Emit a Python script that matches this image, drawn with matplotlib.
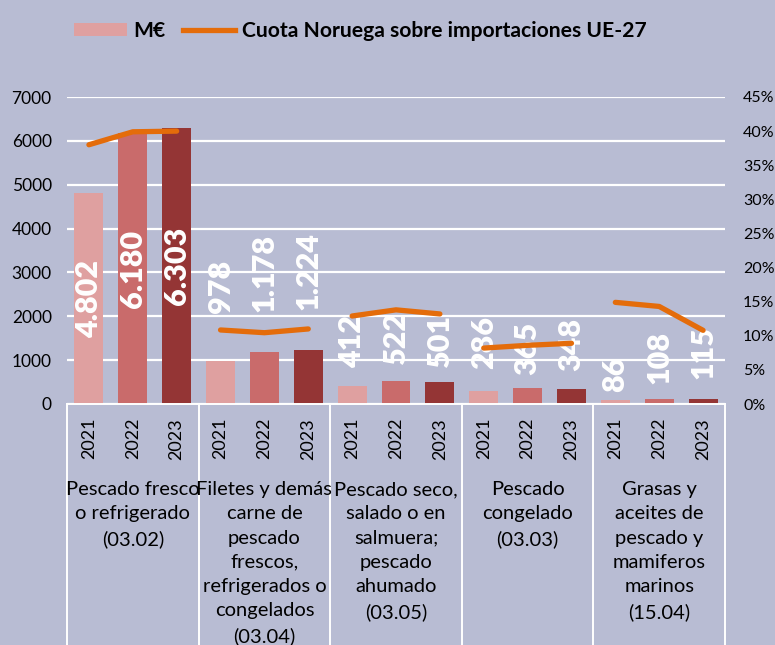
import numpy as np
import matplotlib
matplotlib.use("Agg")
import matplotlib.pyplot as plt
from matplotlib import font_manager as fm
from matplotlib.patches import Patch
from matplotlib.lines import Line2D
from matplotlib.transforms import blended_transform_factory

# ---------------- data ----------------
groups = [
    "Pescado fresco\no refrigerado\n(03.02)",
    "Filetes y demás\ncarne de\npescado\nfrescos,\nrefrigerados o\ncongelados\n(03.04)",
    "Pescado seco,\nsalado o en\nsalmuera;\npescado\nahumado\n(03.05)",
    "Pescado\ncongelado\n(03.03)",
    "Grasas y\naceites de\npescado y\nmamiferos\nmarinos\n(15.04)",
]
years = ["2021", "2022", "2023"]
values_meur = [
    [4802, 6180, 6303],
    [978, 1178, 1224],
    [412, 522, 501],
    [286, 365, 348],
    [86, 108, 115],
]
share_pct = [
    [38.0, 39.9, 40.0],
    [10.85, 10.45, 11.0],
    [12.9, 13.8, 13.2],
    [8.2, 8.6, 8.9],
    [14.9, 14.3, 10.8],
]
left_ticks = [0, 1000, 2000, 3000, 4000, 5000, 6000, 7000]
right_ticks = [0, 5, 10, 15, 20, 25, 30, 35, 40, 45]
legend_labels = ["M€", "Cuota Noruega sobre importaciones UE-27"]

# ---------------- styles ----------------
BG = "#b8bcd3"
BAR_COLORS = ["#dfa0a0", "#c96b6b", "#943535"]
ORANGE = "#e46c0a"
# label offsets above bar tops in pixels (None = centred inside the bar)
label_offsets_px = [
    [None, None, None],
    [48, 40, 40],
    [18, 17, 15],
    [22, 13, 18],
    [8, 15, 20],
]

avail = {f.name for f in fm.fontManager.ttflist}
MAIN = "Lato" if "Lato" in avail else "DejaVu Sans"
plt.rcParams["font.family"] = [MAIN, "DejaVu Sans"]

W, H = 775, 645
fig = plt.figure(figsize=(W / 100, H / 100), dpi=100, facecolor=BG)
L, R, B, T = 67, 725, 404, 97
ax = fig.add_axes([L / W, (H - B) / H, (R - L) / W, (B - T) / H])
ax.set_facecolor(BG)

n_g, n_y = len(groups), len(years)
xs = np.arange(n_g * n_y)

LBL_FS = 22
for gi in range(n_g):
    for yi in range(n_y):
        xi = gi * n_y + yi
        v = values_meur[gi][yi]
        ax.bar(xi, v, width=0.66, color=BAR_COLORS[yi], zorder=2)
        txt = f"{v:,}".replace(",", ".")
        off = label_offsets_px[gi][yi]
        if off is None:
            ax.text(xi, v / 2, txt, rotation=90, ha="center", va="center",
                    color="white", fontsize=LBL_FS, fontweight="heavy", zorder=4)
        else:
            ax.annotate(txt, xy=(xi, v), xytext=(0, off * 0.72),
                        textcoords="offset points", rotation=90,
                        ha="center", va="bottom", color="white",
                        fontsize=LBL_FS, fontweight="heavy", zorder=4)

ax.set_xlim(-0.5, n_g * n_y - 0.5)
ax.set_ylim(0, 7000)
ax.set_yticks(left_ticks)
ax.set_yticklabels([str(t) for t in left_ticks])
ax.yaxis.grid(True, color="white", lw=1.6, zorder=0)
ax.set_axisbelow(True)
for s in ax.spines.values():
    s.set_visible(False)
ax.tick_params(axis="y", length=0, pad=11, labelsize=12.5, colors="black")
ax.set_xticks(xs)
ax.set_xticklabels(years * n_g, rotation=90, fontsize=13)
ax.tick_params(axis="x", length=0, pad=10)

ax2 = ax.twinx()
ax2.set_ylim(0, 45)
ax2.set_yticks(right_ticks)
ax2.set_yticklabels([f"{t}%" for t in right_ticks])
ax2.tick_params(axis="y", length=0, pad=13, labelsize=11.5)
for s in ax2.spines.values():
    s.set_visible(False)
for gi in range(n_g):
    gx = xs[gi * n_y:(gi + 1) * n_y]
    ax2.plot(gx, share_pct[gi], color=ORANGE, lw=3.8, solid_capstyle="round",
             solid_joinstyle="round", zorder=5)

# category box (white lines)
tr = blended_transform_factory(ax.transData, fig.transFigure)
y0 = (H - B) / H
ax.add_line(Line2D([-0.5, n_g * n_y - 0.5], [y0, y0], transform=tr, color="white",
                   lw=1.4, clip_on=False))
for gi in range(n_g + 1):
    bx = gi * n_y - 0.5
    ax.add_line(Line2D([bx, bx], [0, y0], transform=tr, color="white", lw=1.4,
                       clip_on=False))
for gi in range(n_g):
    cx = gi * n_y + (n_y - 1) / 2
    ax.text(cx, (H - 481) / H, groups[gi], transform=tr, ha="center", va="top",
            fontsize=14.5, linespacing=1.52, color="black", clip_on=False)

# legend
handles = [Patch(facecolor=BAR_COLORS[0], edgecolor="none"),
           Line2D([0], [0], color=ORANGE, lw=3.8)]
fig.legend(handles, legend_labels, loc="center", bbox_to_anchor=(0.465, 1 - 31 / H),
           ncol=2, frameon=False, prop={"family": MAIN, "weight": "bold", "size": 15.2},
           handlelength=2.5, handleheight=0.6, handletextpad=0.3, columnspacing=0.8)

fig.savefig("out.png", dpi=100, facecolor=BG)
